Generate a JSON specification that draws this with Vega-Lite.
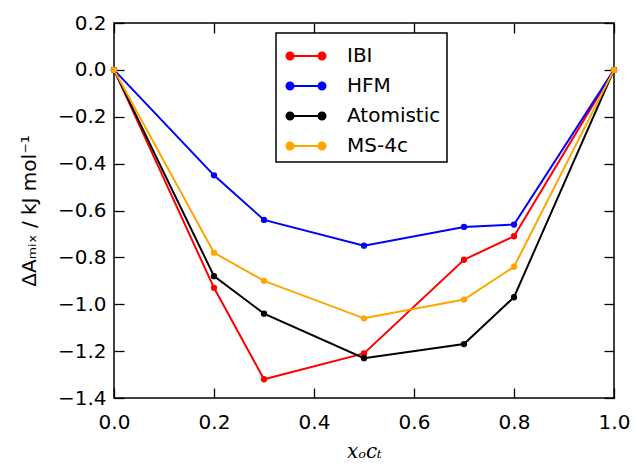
{
  "$schema": "https://vega.github.io/schema/vega-lite/v6.json",
  "width": 500,
  "height": 375,
  "autosize": "none",
  "padding": {"left": 114, "top": 23, "right": 23, "bottom": 66},
  "background": "white",
  "config": {
    "view": {"stroke": "black", "strokeWidth": 1.5},
    "font": "DejaVu Sans",
    "axis": {
      "grid": false,
      "domain": false,
      "ticks": true,
      "offset": -10,
      "tickColor": "black",
      "tickWidth": 1.3,
      "tickSize": 10,
      "tickOpacity": 1,
      "labelPadding": 8,
      "labelFlush": false,
      "labelOverlap": false,
      "labelFont": "DejaVu Sans",
      "labelFontSize": 20,
      "labelColor": "black",
      "titleFont": "DejaVu Sans",
      "titleFontSize": 20,
      "titleFontWeight": "normal",
      "titleColor": "black"
    },
    "legend": {
      "labelFont": "DejaVu Sans",
      "labelFontSize": 20,
      "labelColor": "black"
    }
  },
  "data": {
    "values": [
      {"x": 0.0, "y": 0.0, "series": "IBI"},
      {"x": 0.2, "y": -0.93, "series": "IBI"},
      {"x": 0.3, "y": -1.32, "series": "IBI"},
      {"x": 0.5, "y": -1.21, "series": "IBI"},
      {"x": 0.7, "y": -0.81, "series": "IBI"},
      {"x": 0.8, "y": -0.71, "series": "IBI"},
      {"x": 1.0, "y": 0.0, "series": "IBI"},
      {"x": 0.0, "y": 0.0, "series": "HFM"},
      {"x": 0.2, "y": -0.45, "series": "HFM"},
      {"x": 0.3, "y": -0.64, "series": "HFM"},
      {"x": 0.5, "y": -0.75, "series": "HFM"},
      {"x": 0.7, "y": -0.67, "series": "HFM"},
      {"x": 0.8, "y": -0.66, "series": "HFM"},
      {"x": 1.0, "y": 0.0, "series": "HFM"},
      {"x": 0.0, "y": 0.0, "series": "Atomistic"},
      {"x": 0.2, "y": -0.88, "series": "Atomistic"},
      {"x": 0.3, "y": -1.04, "series": "Atomistic"},
      {"x": 0.5, "y": -1.23, "series": "Atomistic"},
      {"x": 0.7, "y": -1.17, "series": "Atomistic"},
      {"x": 0.8, "y": -0.97, "series": "Atomistic"},
      {"x": 1.0, "y": 0.0, "series": "Atomistic"},
      {"x": 0.0, "y": 0.0, "series": "MS-4c"},
      {"x": 0.2, "y": -0.78, "series": "MS-4c"},
      {"x": 0.3, "y": -0.90, "series": "MS-4c"},
      {"x": 0.5, "y": -1.06, "series": "MS-4c"},
      {"x": 0.7, "y": -0.98, "series": "MS-4c"},
      {"x": 0.8, "y": -0.84, "series": "MS-4c"},
      {"x": 1.0, "y": 0.0, "series": "MS-4c"}
    ]
  },
  "layer": [
    {
      "mark": {"type": "line", "strokeWidth": 2},
      "encoding": {
        "x": {"field": "x", "type": "quantitative", "scale": {"domain": [0, 1]},
              "axis": {"orient": "bottom", "values": [0, 0.2, 0.4, 0.6, 0.8, 1.0], "format": ".1f", "labelPadding": 14, "title": "xₒcₜ", "titleFontStyle": "italic", "titleFont": "DejaVu Serif", "titlePadding": 9}},
        "y": {"field": "y", "type": "quantitative", "scale": {"domain": [-1.4, 0.2]},
              "axis": {"orient": "left", "values": [-1.4, -1.2, -1.0, -0.8, -0.6, -0.4, -0.2, 0.0, 0.2], "format": ".1f", "title": "ΔAₘᵢₓ / kJ mol⁻¹", "titlePadding": 18}},
        "color": {"field": "series", "type": "nominal",
                  "scale": {"domain": ["IBI", "HFM", "Atomistic", "MS-4c"], "range": ["#ff0000", "#0000ff", "#000000", "#ffa500"]},
                  "legend": {
                    "title": null,
                    "orient": "none",
                    "legendX": 162,
                    "legendY": 10,
                    "direction": "vertical",
                    "fillColor": "white",
                    "strokeColor": "black",
                    "padding": 6,
                    "rowPadding": 3,
                    "symbolOffset": 7,
                    "symbolType": "M-1,0H1M-0.78,0a0.22,0.22 0 1,0 -0.44,0a0.22,0.22 0 1,0 0.44,0M1.22,0a0.22,0.22 0 1,0 -0.44,0a0.22,0.22 0 1,0 0.44,0",
                    "symbolSize": 1024,
                    "labelOffset": 24,
                    "encode": {
                      "legend": {"update": {"strokeWidth": {"value": 1.5}}},
                      "symbols": {"update": {"fill": {"scale": "color", "field": "value"}, "stroke": {"scale": "color", "field": "value"}, "strokeWidth": {"value": 2}, "opacity": {"value": 1}}}
                    }
                  }}
      }
    },
    {
      "mark": {"type": "point", "filled": true, "size": 40, "opacity": 1},
      "encoding": {
        "x": {"field": "x", "type": "quantitative",
              "axis": {"orient": "top", "values": [0, 0.2, 0.4, 0.6, 0.8, 1.0], "labels": false, "title": null}},
        "y": {"field": "y", "type": "quantitative",
              "axis": {"orient": "right", "values": [-1.4, -1.2, -1.0, -0.8, -0.6, -0.4, -0.2, 0.0, 0.2], "labels": false, "title": null}},
        "color": {"field": "series", "type": "nominal", "legend": null}
      }
    }
  ],
  "resolve": {"axis": {"x": "independent", "y": "independent"}}
}
